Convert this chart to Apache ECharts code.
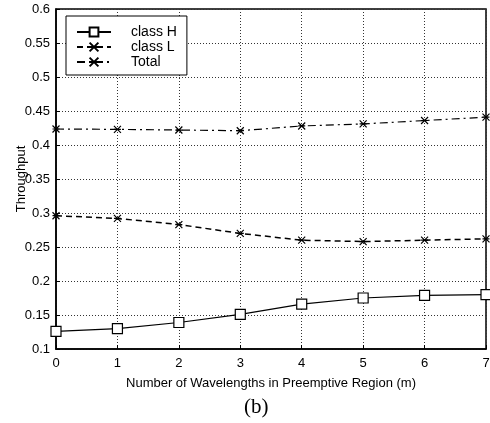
<!DOCTYPE html>
<html>
<head>
<meta charset="utf-8">
<script src="https://cdn.jsdelivr.net/npm/echarts@6/dist/echarts.min.js"></script>
<style>html,body{margin:0;padding:0;background:#fff}#c{width:490px;height:423px}</style>
</head>
<body>
<div id="c"></div>
<script>
const categories = ['0','1','2','3','4','5','6','7'];
const classH = [0.126, 0.130, 0.139, 0.151, 0.166, 0.175, 0.179, 0.180];
const classL = [0.296, 0.292, 0.283, 0.270, 0.260, 0.258, 0.260, 0.262];
const total  = [0.4235, 0.423, 0.422, 0.421, 0.428, 0.431, 0.436, 0.441];
const yMin = 0.1, yMax = 0.6, yStep = 0.05;

const font = 'Liberation Sans, Arial, sans-serif';
const xSym = 'path://M0,0L10,10M0,10L10,0M0,5L10,5';
const chart = echarts.init(document.getElementById('c'));
chart.setOption({
  animation: false,
  backgroundColor: '#fff',
  textStyle: {fontFamily: font, color: '#000'},
  title: {
    text: '(b)', left: 239, top: 392,
    textStyle: {fontFamily: 'Liberation Serif, DejaVu Serif, serif', fontWeight: 'normal', fontSize: 21, color: '#000'}
  },
  grid: {left: 56, right: 4, top: 9, bottom: 74, show: true, borderColor: '#000', borderWidth: 1.5,
         backgroundColor: 'transparent', containLabel: false, outerBoundsMode: 'none'},
  legend: {
    orient: 'vertical', left: 66, top: 16,
    backgroundColor: '#fff', borderColor: '#000', borderWidth: 1,
    padding: [9, 10, 6, 10], itemGap: 1, itemWidth: 34, itemHeight: 11,
    textStyle: {fontFamily: font, fontSize: 14, lineHeight: 14, color: '#000', padding: [0, 0, 0, 15]},
    data: ['class H', 'class L', 'Total']
  },
  xAxis: {
    type: 'category', data: categories, boundaryGap: false,
    name: 'Number of Wavelengths in Preemptive Region (m)', nameLocation: 'middle', nameGap: 28,
    nameMoveOverlap: false,
    nameTextStyle: {fontSize: 13, color: '#000'},
    axisLine: {lineStyle: {color: '#000', width: 1.5}},
    axisTick: {inside: true, length: 4, lineStyle: {color: '#000'}},
    axisLabel: {fontSize: 13, color: '#000', margin: 8},
    splitLine: {show: true, lineStyle: {color: '#333', type: [1, 2], width: 1}}
  },
  yAxis: {
    type: 'value', min: yMin, max: yMax, interval: yStep,
    name: 'Throughput', nameLocation: 'middle', nameGap: 28,
    nameMoveOverlap: false,
    nameTextStyle: {fontSize: 13, color: '#000'},
    axisLine: {show: true, lineStyle: {color: '#000', width: 1.5}},
    axisTick: {show: true, inside: true, length: 4, lineStyle: {color: '#000'}},
    axisLabel: {fontSize: 13, color: '#000', margin: 6},
    splitLine: {show: true, lineStyle: {color: '#333', type: [1, 2], width: 1}}
  },
  series: [
    {
      name: 'class H', type: 'line', data: classH,
      symbol: 'rect', symbolSize: 10,
      lineStyle: {color: '#000', width: 1.2, type: 'solid'},
      itemStyle: {color: '#fff', borderColor: '#000', borderWidth: 1.2}
    },
    {
      name: 'class L', type: 'line', data: classL,
      symbol: xSym, symbolSize: 7,
      lineStyle: {color: '#000', width: 1.5, type: [6, 4]},
      itemStyle: {color: 'none', borderColor: '#000', borderWidth: 1.2}
    },
    {
      name: 'Total', type: 'line', data: total,
      symbol: xSym, symbolSize: 7,
      lineStyle: {color: '#000', width: 1.2, type: [8, 4, 2, 4]},
      itemStyle: {color: 'none', borderColor: '#000', borderWidth: 1.2}
    }
  ]
});
</script>
</body>
</html>
